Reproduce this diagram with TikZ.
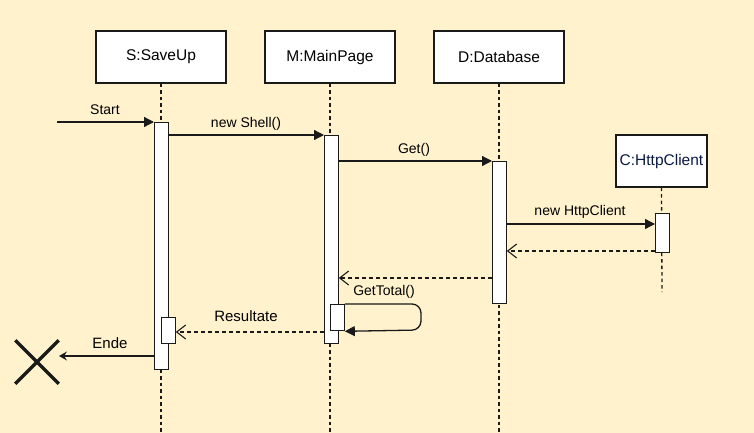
\documentclass[tikz,border=0pt]{standalone}
\usepackage{fontspec}
\setmainfont{Liberation Sans}
\usetikzlibrary{arrows.meta,shapes.misc}
\definecolor{bgc}{HTML}{FFF2CC}
\definecolor{ink}{HTML}{1A1A1A}
\definecolor{navy}{HTML}{0B1A45}
\tikzset{
  objbox/.style={draw=ink, fill=white, line width=1.3pt, minimum width=130pt, minimum height=52pt, inner sep=0pt, font=\fontsize{15.5}{18}\selectfont},
  actbar/.style={draw=ink, fill=white, line width=1.3pt, minimum width=13.5pt, inner sep=0pt, anchor=north west},
  lifeline/.style={draw=ink, line width=1.3pt, dash pattern=on 3.5pt off 3pt},
  sync/.style={draw=ink, line width=1.3pt, -{Triangle[length=10pt,width=10pt]}},
  reply/.style={draw=ink, line width=1.3pt, dash pattern=on 4pt off 3pt, -{Straight Barb[length=9pt,width=14pt,line width=1.1pt]}},
  endmsg/.style={draw=ink, line width=1.3pt, -{Stealth[length=8pt,width=9pt,inset=3pt]}},
  lbl/.style={inner sep=0pt, font=\fontsize{14}{16}\selectfont},
  biglbl/.style={inner sep=0pt, font=\fontsize{15}{18}\selectfont},
}
\begin{document}
\begin{tikzpicture}[x=1pt,y=-1pt]
\fill[bgc] (0,0) rectangle (754,433);
\useasboundingbox (0,0) rectangle (754,433);

% objects
\node[objbox] (S) at (161,57) {S:SaveUp};
\node[objbox] (M) at (330,57) {M:MainPage};
\node[objbox] (D) at (499,57) {D:Database};
\node[objbox, minimum width=91pt, text=navy] (C) at (661.5,161) {C:HttpClient};

% lifeline ends
\coordinate (Send) at (161,433);
\coordinate (Mend) at (330,433);
\coordinate (Dend) at (499,433);
\coordinate (Cend) at (662,292);
\draw[lifeline] (S.south) -- (Send);
\draw[lifeline] (M.south) -- (Mend);
\draw[lifeline] (D.south) -- (Dend);
\draw[lifeline] (C.south) -- (Cend);

% activation bars
\node[actbar, minimum height=247pt] (sb) at (154,122) {};
\node[actbar, minimum height=208pt] (mb) at (324,135) {};
\node[actbar, minimum height=142pt] (db) at (492,161) {};
\node[actbar, minimum height=39pt] (cb) at (655,213) {};
\node[actbar, minimum height=26pt] (sib) at (161,317) {};
\node[actbar, minimum height=26pt] (mib) at (330,304) {};

% start
\coordinate (st) at (57,122);
\draw[sync] (st) -- (sb.north west);
\node[lbl] (lstart) at (105,110) {Start};

% new Shell()
\draw[sync] (sb.east |- mb.north) -- (mb.north west);
\node[lbl] (lshell) at (246,124) {new Shell()};

% Get()
\draw[sync] (mb.east |- db.north) -- (db.north west);
\node[lbl] (lget) at (414,150) {Get()};

% new HttpClient
\coordinate (m4) at (655,224);
\draw[sync] (db.east |- m4) -- (m4);
\node[lbl] (lhttp) at (580,212) {new HttpClient};

% return C -> D
\coordinate (r1) at (655,251);
\draw[reply] (r1) -- (db.east |- r1);

% return D -> M
\coordinate (r2) at (492,278);
\draw[reply] (r2) -- (mb.east |- r2);

% GetTotal self call
\coordinate (gt1) at (421,304);
\coordinate (gt2) at (421,330);
\draw[sync, rounded corners=9pt] (mib.north east) -- (gt1) -- (gt2) -- (mib.south east);
\node[lbl] (lgt) at (384,292) {GetTotal()};

% Resultate
\coordinate (r3) at (324,332);
\draw[reply] (r3) -- (sib.east |- r3);
\node[biglbl] (lres) at (246,316) {Resultate};

% Ende
\node[draw=ink, cross out, line width=3.5pt, minimum size=40pt, inner sep=0pt] (X) at (37,362) {};
\coordinate (e1) at (154,356);
\coordinate (e2) at (59,356);
\draw[endmsg] (e1) -- (e2);
\node[biglbl] (lende) at (110,343) {Ende};
\end{tikzpicture}
\end{document}
